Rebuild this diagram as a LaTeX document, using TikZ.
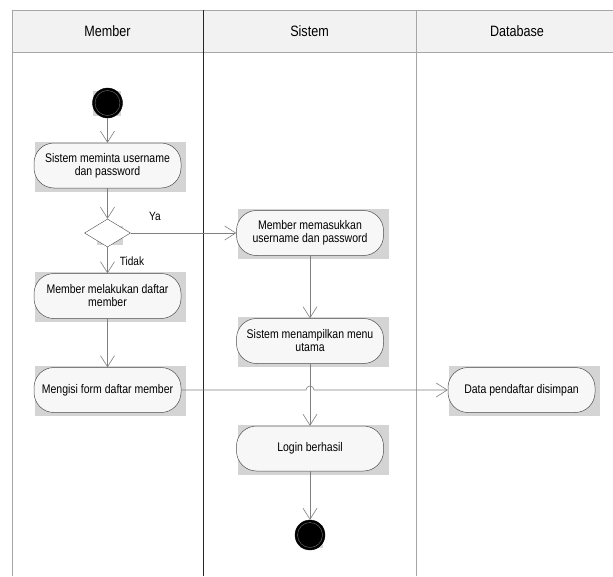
\documentclass[tikz,border=0pt]{standalone}
\usepackage{fontspec}
\setmainfont{Liberation Sans}[FakeStretch=0.84]
\usetikzlibrary{arrows.meta,shapes.geometric,calc,backgrounds}
\definecolor{lineg}{HTML}{7F7F7F}
\definecolor{laneg}{HTML}{A6A6A6}
\definecolor{shadg}{HTML}{D4D4D4}
\definecolor{headg}{HTML}{F2F2F2}
\definecolor{actfill}{HTML}{F7F7F7}
\begin{document}
\begin{tikzpicture}[x=1pt,y=-1pt,
  act/.style={draw=black!70, fill=actfill, rounded corners=20pt, minimum width=147pt,
    minimum height=45pt, align=center, inner sep=2pt, line width=0.5pt,
    font=\fontsize{12.5}{13}\selectfont},
  head/.style={font=\fontsize{15}{16}\selectfont},
  lbl/.style={font=\fontsize{12}{13}\selectfont, inner sep=0pt},
  flow/.style={draw=lineg, line width=0.6pt, -{Straight Barb[length=11pt,width=14pt,line width=0.6pt]}},
  shad/.style={fill=shadg},
  term/.style={circle, fill=black, draw=black, minimum size=30pt, inner sep=0pt},
  ring/.style={draw=black!55, line width=0.4pt}
]
\useasboundingbox (0,0) rectangle (613,576);

% swimlanes
\fill[headg] (12,10) rectangle (613,52);
\draw[laneg, line width=0.8pt] (12,576) -- (12,10) -- (613,10);
\draw[laneg, line width=0.8pt] (12,52) -- (613,52);
\draw[black!85, line width=0.6pt] (203,10) -- (203,576);
\draw[laneg, line width=0.9pt] (416,10) -- (416,576);

\node[head] (hmember) at (107.5,31) {Member};
\node[head] (hsistem) at (309.5,31) {Sistem};
\node[head] (hdb) at (517,31) {Database};

% nodes
\node[term] (start) at (107.5,103) {};
\node[act] (n1) at (107.5,165.5) {Sistem meminta username\\dan password};
\node[diamond, draw=black!70, fill=white, minimum width=46pt, minimum height=28pt, inner sep=0pt] (dec) at (107.5,233) {};
\node[act] (n2) at (107.5,296) {Member melakukan daftar\\member};
\node[act] (n3) at (107.5,390) {Mengisi form daftar member};
\node[act] (n4) at (310,233) {Member memasukkan\\username dan password};
\node[act] (n5) at (310,341) {Sistem menampilkan menu\\utama};
\node[act] (n6) at (310,448.5) {Login berhasil};
\node[term] (end) at (310,535) {};
\node[act] (data) at (521.5,390) {Data pendaftar disimpan};

\draw[ring] (start) circle (12.5pt);
\draw[ring] (end) circle (12.5pt);

\node[lbl] (ya) at (155,216) {Ya};
\node[lbl] (tidak) at (132,261) {Tidak};

% shadows
\begin{scope}[on background layer]
  \fill[shadg] ($(start.north west)+(-4,-1)$) rectangle ($(start.south east)+(3,2)$);
  \fill[shadg] ($(end.north west)+(1,0.5)$) rectangle ($(end.south east)+(2,2.5)$);
  \fill[shadg] ($(dec.north west)+(1.5,0)$) rectangle ($(dec.south east)+(4,5)$);
  \foreach \n in {n1,n2,n3,n4,n5,n6,data}
    \fill[shadg] ($(\n.north west)+(1.5,-1)$) rectangle ($(\n.south east)+(5,3.5)$);
\end{scope}

% connectors
\draw[flow] (start) -- (n1);
\draw[flow] (n1) -- (dec);
\draw[flow] (dec.east) -- (n4.west);
\draw[flow] (dec.south) -- (n2.north);
\draw[flow] (n2) -- (n3);
\draw[flow] (n4) -- (n5);
\draw[flow] (n5) -- (n6);
\draw[flow] (n6) -- (end);
\draw[flow] (n3.east) -- ($(n3.east -| n6.north)+(-4,0)$) arc[start angle=180, end angle=0, radius=4pt] -- (data.west);
\end{tikzpicture}
\end{document}
